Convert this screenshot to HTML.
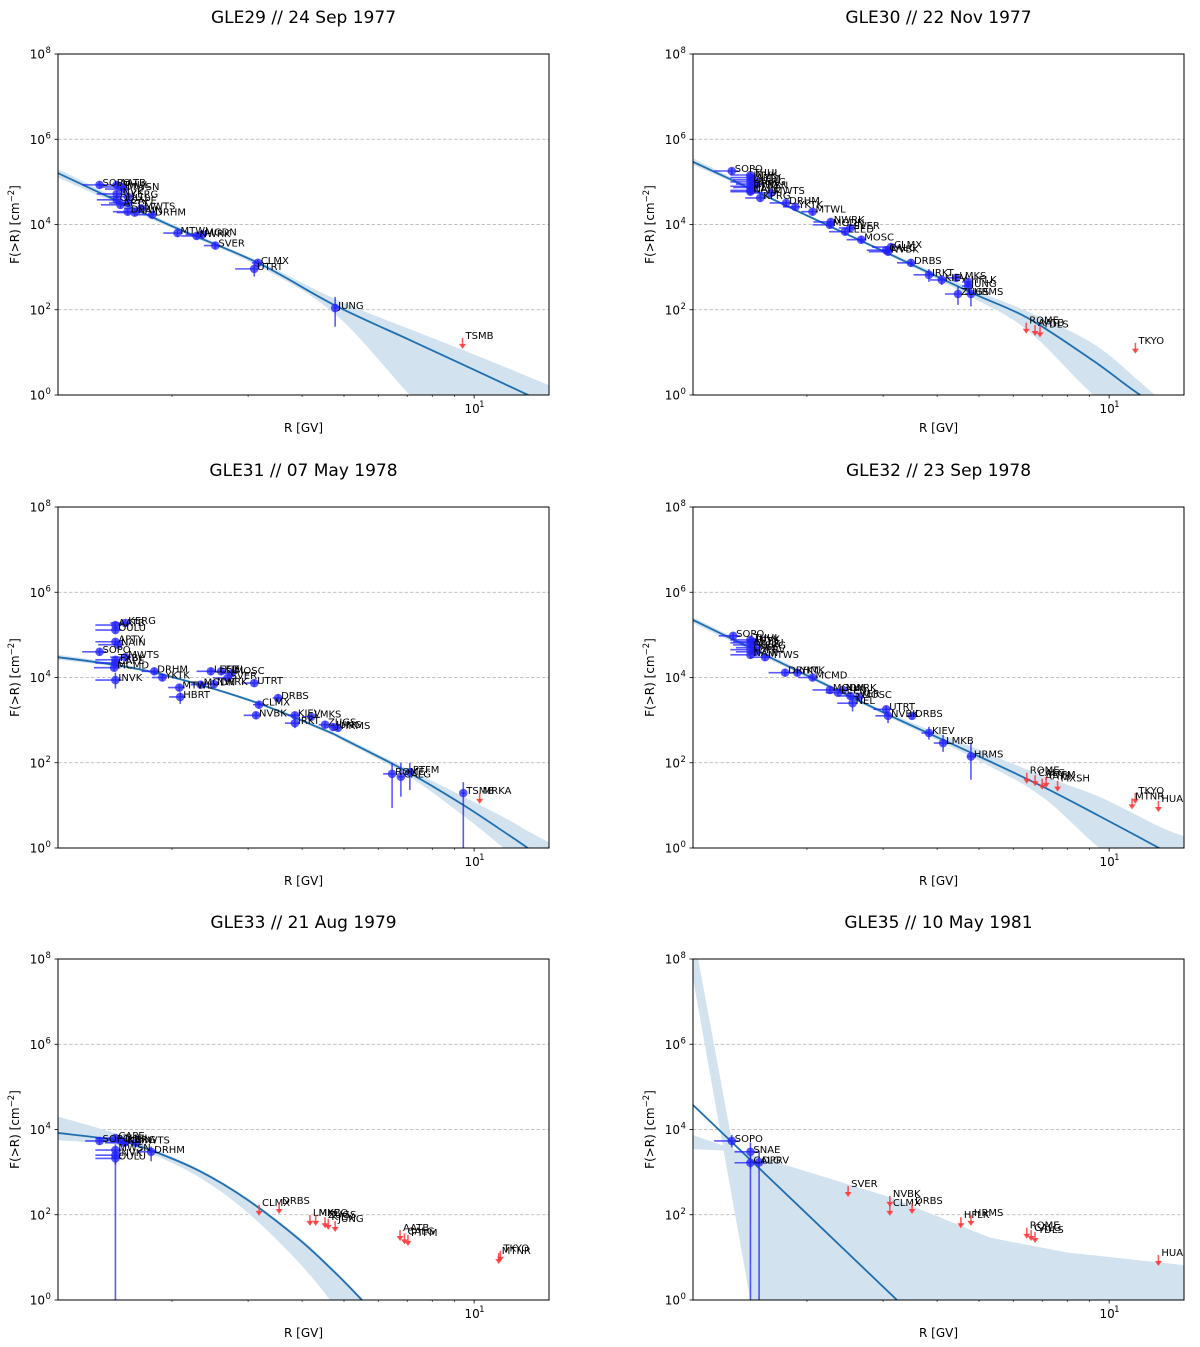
<!DOCTYPE html>
<html><head><meta charset="utf-8"><style>
html,body{margin:0;padding:0;background:#fff;}
svg{display:block;font-family:"DejaVu Sans","Liberation Sans",sans-serif;}
</style></head><body>
<svg id="fig" width="1200" height="1347" viewBox="0 0 1200 1347" xmlns="http://www.w3.org/2000/svg"></svg>
<script>
// ---------- shared axis data ----------
const yTickExps = [0, 2, 4, 6, 8];
const xMajorTicks = [10];
const xMinorTicks = [2, 3, 4, 5, 6, 7, 8, 9];
const xRange = [1.09, 14.9];
const yRange = [1, 1e8];

// ---------- GLE29 ----------
const gle29Names = ["SOPO","AATB","THUL","MWSN","INVK","KERG","OULU","APTY","CAPE","DPRV","MWTS","NAIN","DRHM","MTWL","NWRK","MGDN","SVER","CLMX","UTRT","JUNG"];
const gle29R = [1.36,1.49,1.52,1.55,1.49,1.58,1.49,1.52,1.58,1.58,1.70,1.64,1.80,2.06,2.28,2.35,2.52,3.16,3.10,4.77];
const gle29F = [8.5e4,8.5e4,7.6e4,6.8e4,5.2e4,4.5e4,3.8e4,2.9e4,3.2e4,2.0e4,2.4e4,1.9e4,1.7e4,6.3e3,5.4e3,5.8e3,3.2e3,1.26e3,9.1e2,110];
const gle29dRlo = [0.12,0.15,0.15,0.15,0.15,0.15,0.15,0.15,0.15,0.12,0.15,0.15,0.15,0.15,0.18,0.2,0.15,0.1,0.3,0.05];
const gle29dRhi = [0.04,0.05,0.05,0.05,0.05,0.05,0.05,0.05,0.05,0.05,0.05,0.05,0.05,0.05,0.06,0.06,0.06,0.08,0.08,0.05];
const gle29Flo = [null,null,null,null,null,null,null,null,null,null,null,null,null,null,null,null,null,1.0e3,6e2,40];
const gle29Fhi = [null,null,null,null,null,null,null,null,null,null,null,null,null,null,null,null,null,1.5e3,1.2e3,200];
const gle29ulNames = ["TSMB"];
const gle29ulR = [9.4];
const gle29ulF = [15];
const gle29fitR = [1.09,1.96,3.16,4.77,7.1,10,14.9];
const gle29fitF = [1.6e5,1e4,1.26e3,126,19.5,3.9,0.59];
const gle29bandLo = [1.26e5,8.9e3,1.07e3,79,1,0.03,0.001];
const gle29bandHi = [2e5,1.12e4,1.41e3,178,35,8.9,1.7];

// ---------- GLE30 ----------
const gle30Names = ["SOPO","THUL","INVK","APTY","OULU","KERG","DPRV","MWSN","CAPE","NAIN","KPRG","MWTS","DRHM","YKTK","MTWL","NWRK","MGDN","LEED","SVER","MOSC","CLMX","NVBK","CALG","DRBS","IRKT","KIEV","LMKS","HFLK","JUNG","ZUGS","HRMS"];
const gle30R = [1.34,1.48,1.48,1.50,1.48,1.52,1.48,1.50,1.48,1.48,1.56,1.65,1.79,1.88,2.06,2.27,2.26,2.45,2.52,2.67,3.13,3.08,3.05,3.48,3.83,4.10,4.43,4.72,4.72,4.47,4.79];
const gle30F = [1.8e5,1.45e5,1.26e5,1.12e5,1e5,8.9e4,7.9e4,7.4e4,6.3e4,5.9e4,4.2e4,5.5e4,3.2e4,2.6e4,2e4,1.15e4,9.8e3,6.8e3,8.3e3,4.4e3,2.95e3,2.3e3,2.5e3,1.26e3,660,500,560,450,360,234,234];
const gle30dRlo = [0.12,0.15,0.15,0.15,0.15,0.15,0.15,0.15,0.15,0.15,0.12,0.15,0.15,0.12,0.12,0.2,0.2,0.2,0.15,0.2,0.3,0.3,0.3,0.25,0.3,0.25,0.2,0.15,0.15,0.3,0.15];
const gle30dRhi = [0.05,0.05,0.05,0.05,0.05,0.05,0.05,0.05,0.05,0.05,0.05,0.05,0.05,0.05,0.06,0.06,0.06,0.06,0.06,0.06,0.08,0.08,0.08,0.08,0.08,0.08,0.08,0.08,0.08,0.08,0.08];
const gle30Flo = [null,null,null,null,null,null,null,null,null,null,null,null,null,null,null,null,null,null,null,null,null,null,null,null,450,380,null,null,280,130,120];
const gle30Fhi = [null,null,null,null,null,null,null,null,null,null,null,null,null,null,null,null,null,null,null,null,null,null,null,null,900,650,null,null,460,350,400];
const gle30ulNames = ["ROME","AATB","YDLS","TKYO"];
const gle30ulR = [6.43,6.74,6.92,11.5];
const gle30ulF = [34,30,28,11.5];
const gle30fitR = [1.09,1.5,2.0,3.1,4.8,6.5,9.2,11.8,14.9];
const gle30fitF = [2.95e5,6.5e4,1.62e4,2.04e3,251,63,6.3,1,0.25];
const gle30bandLo = [2.5e5,6e4,1.51e4,1.86e3,200,32,1,0.16,0.01];
const gle30bandHi = [3.55e5,7.1e4,1.74e4,2.24e3,316,89,15.8,2,0.25];

// ---------- GLE31 ----------
const gle31Names = ["AATB","KERG","OULU","APTY","NAIN","SOPO","TXBY","MWTS","CAPE","MCMD","INVK","DRHM","YKTK","MTWL","HBRT","MGDN","LEED","KIEL","SVER","NWRK","MOSC","UTRT","CLMX","DRBS","NVBK","KIEV","IRKT","LMKS","ZUGS","JUNG","HRMS","ROME","CALG","PTFM","TSMB"];
const gle31R = [1.48,1.56,1.48,1.48,1.50,1.36,1.48,1.56,1.48,1.47,1.48,1.82,1.90,2.08,2.09,2.33,2.46,2.60,2.69,2.50,2.75,3.10,3.18,3.52,3.13,3.85,3.85,4.20,4.52,4.72,4.84,6.46,6.77,7.10,9.44];
const gle31F = [1.7e5,1.9e5,1.3e5,6.9e4,5.9e4,4e4,2.6e4,3e4,2.2e4,1.7e4,8.7e3,1.4e4,1e4,5.8e3,3.5e3,6.8e3,1.4e4,1.4e4,9.8e3,7e3,1.26e4,7.4e3,2.3e3,3.3e3,1.3e3,1.3e3,850,1.2e3,780,690,660,55,47,60,19.5];
const gle31dRlo = [0.15,0.12,0.15,0.15,0.15,0.12,0.15,0.12,0.15,0.15,0.15,0.12,0.1,0.12,0.12,0.12,0.18,0.15,0.2,0.15,0.15,0.2,0.1,0.1,0.2,0.15,0.2,0.2,0.15,0.15,0.1,0.3,0.1,0.1,0.1];
const gle31dRhi = [0.05,0.05,0.05,0.05,0.05,0.05,0.05,0.05,0.05,0.05,0.05,0.05,0.05,0.06,0.06,0.06,0.06,0.06,0.06,0.06,0.06,0.08,0.08,0.08,0.08,0.08,0.08,0.08,0.08,0.08,0.08,0.1,0.1,0.1,0.1];
const gle31Flo = [null,null,null,null,null,null,null,null,null,null,5.5e3,null,null,null,2.4e3,null,null,null,null,null,null,null,null,null,null,null,650,null,null,null,null,8.7,16,23,0.5];
const gle31Fhi = [null,null,null,null,null,null,null,null,null,null,1.3e4,null,null,null,4.5e3,null,null,null,null,null,null,null,null,null,null,null,1.1e3,null,null,null,null,100,100,100,35];
const gle31ulNames = ["MRKA"];
const gle31ulR = [10.3];
const gle31ulF = [13.5];
const gle31fitR = [1.09,1.5,2.0,3.1,4.5,5.0,7.0,9.44,12.0,13.3,14.9];
const gle31fitF = [3e4,1.92e4,1.03e4,2.69e3,589,355,61.7,10.2,2.04,1,0.43];
const gle31bandLo = [2.6e4,1.75e4,9.6e3,2.5e3,537,316,51,5.75,0.81,0.32,0.095];
const gle31bandHi = [3.45e4,2.1e4,1.1e4,2.88e3,646,398,72.4,16.2,4.6,2.5,1.35];

// ---------- GLE32 ----------
const gle32Names = ["SOPO","THUL","INVK","APTY","OULU","KERG","CAPE","DPRV","NAIN","MTWS","DRHM","YKTK","MCMD","MGDN","LEED","NWRK","SVER","MOSC","NEL","UTRT","NVBK","DRBS","KIEV","LMKB","HRMS"];
const gle32R = [1.35,1.48,1.50,1.48,1.50,1.52,1.48,1.52,1.48,1.60,1.78,1.90,2.06,2.26,2.36,2.42,2.52,2.64,2.55,3.05,3.08,3.50,3.83,4.13,4.79];
const gle32F = [9.5e4,7.6e4,6.9e4,6.5e4,5.8e4,5e4,4.5e4,4e4,3.4e4,3e4,1.3e4,1.3e4,1e4,5.1e3,4.4e3,5.1e3,3.7e3,3.5e3,2.5e3,1.8e3,1.26e3,1.26e3,500,290,140];
const gle32dRlo = [0.1,0.15,0.15,0.15,0.15,0.15,0.15,0.15,0.15,0.12,0.15,0.12,0.15,0.2,0.15,0.15,0.15,0.15,0.2,0.2,0.2,0.1,0.15,0.2,0.1];
const gle32dRhi = [0.05,0.05,0.05,0.05,0.05,0.05,0.05,0.05,0.05,0.05,0.05,0.05,0.06,0.06,0.06,0.06,0.06,0.06,0.06,0.08,0.08,0.08,0.08,0.1,0.1];
const gle32Flo = [null,null,null,null,null,null,null,null,null,null,null,null,null,null,null,null,null,null,1.6e3,null,850,null,350,180,40];
const gle32Fhi = [null,null,null,null,null,null,null,null,null,null,null,null,null,null,null,null,null,null,3.2e3,null,1.6e3,null,700,450,300];
const gle32ulNames = ["ROME","CALG","AATB","PTFM","MXSH","TKYO","MTNR","HUAN"];
const gle32ulR = [6.45,6.74,7.0,7.15,7.6,11.5,11.3,13.0];
const gle32ulF = [40,35,29,32,26,13.5,10,8.7];
const gle32fitR = [1.09,2.0,3.05,5.0,7.0,9.5,13.05,14.9];
const gle32fitF = [2.24e5,1.12e4,1.41e3,141,28,5.6,1,0.5];
const gle32bandLo = [1.9e5,1e4,1.26e3,112,15.8,1,0.1,0.025];
const gle32bandHi = [2.6e5,1.26e4,1.58e3,200,50,15.8,3.2,1.9];

// ---------- GLE33 ----------
const gle33Names = ["SOPO","CAPE","MWSN","THUL","NAIN","INVK","OULU","MWTS","KERG","DRHM"];
const gle33R = [1.36,1.48,1.48,1.52,1.55,1.48,1.48,1.65,1.56,1.79];
const gle33F = [5.4e3,6.3e3,3.3e3,5.5e3,4.9e3,2.5e3,2.1e3,4.9e3,5.1e3,3e3];
const gle33dRlo = [0.1,0.15,0.15,0.15,0.15,0.15,0.15,0.12,0.12,0.12];
const gle33dRhi = [0.05,0.05,0.05,0.05,0.05,0.05,0.05,0.05,0.05,0.05];
const gle33Flo = [null,null,2.2e3,null,null,1.5e3,0.5,null,null,1.8e3];
const gle33Fhi = [null,null,4.5e3,null,null,3.5e3,3.2e3,null,null,4e3];
const gle33ulNames = ["CLMX","DRBS","LMKB","MXCO","ZUGS","KIEV","JUNG","AATB","CALG","PTFM","TKYO","MTNR"];
const gle33ulR = [3.18,3.54,4.17,4.30,4.52,4.60,4.77,6.74,6.9,7.03,11.5,11.4];
const gle33ulF = [117,129,68,68,60,55,49,30,25,23,9.8,8.7];
const gle33fitR = [1.09,1.5,1.78,2.32,3.0,3.95,4.8,5.5];
const gle33fitF = [8.3e3,5.5e3,3.3e3,1.05e3,219,25.7,4.1,1];
const gle33bandLo = [5.6e3,4.4e3,2.75e3,741,110,7.2,0.65,0.1];
const gle33bandHi = [2e4,7.8e3,3.8e3,1.15e3,240,28.8,4.6,1.12];

// ---------- GLE35 ----------
const gle35Names = ["SOPO","SNAE","DPRV","CALG"];
const gle35R = [1.34,1.48,1.55,1.48];
const gle35F = [5.4e3,3e3,1.7e3,1.66e3];
const gle35dRlo = [0.12,0.12,0.1,0.12];
const gle35dRhi = [0.05,0.06,0.04,0.06];
const gle35Flo = [3.8e3,1.2e3,0.5,0.5];
const gle35Fhi = [7.5e3,5e3,3.2e3,2.4e3];
const gle35ulNames = ["SVER","NVBK","CLMX","DRBS","HFLK","HRMS","ROME","CALG","YDLS","HUAN"];
const gle35ulR = [2.49,3.11,3.11,3.5,4.54,4.79,6.45,6.6,6.74,13.0];
const gle35ulF = [324,190,117,129,60,68,34,30,27,7.8];
const gle35fitR = [1.07,3.23];
const gle35fitF = [4.5e4,1];
// band drawn as two overlapping wedges (R, F)
const gle35steepR = [1.07,1.12,1.57,1.48];
const gle35steepF = [1e8,1e8,0.97,0.97];
const gle35shallowR = [1.09,1.34,1.57,14.9,14.9,8.0,5.3,3.1,1.34,1.09];
const gle35shallowF = [3470,3160,0.97,0.97,6.6,13,29,263,3550,7400];

// ---------- drawing ----------
const NS = "http://www.w3.org/2000/svg";
const svg = document.getElementById("fig");
function mk(tag, attrs, parent) {
  const e = document.createElementNS(NS, tag);
  for (const k in attrs) e.setAttribute(k, attrs[k]);
  (parent || svg).appendChild(e);
  return e;
}
function smooth(pts, start) {
  let s = (start ? "M" : "L") + pts[0][0].toFixed(2) + "," + pts[0][1].toFixed(2);
  for (let i = 0; i < pts.length - 1; i++) {
    const p0 = pts[i - 1] || pts[i], p1 = pts[i], p2 = pts[i + 1], p3 = pts[i + 2] || p2;
    const c1x = p1[0] + (p2[0] - p0[0]) / 6, c1y = p1[1] + (p2[1] - p0[1]) / 6;
    const c2x = p2[0] - (p3[0] - p1[0]) / 6, c2y = p2[1] - (p3[1] - p1[1]) / 6;
    s += " C" + c1x.toFixed(2) + "," + c1y.toFixed(2) + " " + c2x.toFixed(2) + "," + c2y.toFixed(2) + " " + p2[0].toFixed(2) + "," + p2[1].toFixed(2);
  }
  return s;
}
const W = 491, H = 341;
const lx0 = Math.log10(xRange[0]), lx1 = Math.log10(xRange[1]);
const ly0 = Math.log10(yRange[0]), ly1 = Math.log10(yRange[1]);

function panel(id, title, x0, y0, d) {
  const X = r => x0 + (Math.log10(r) - lx0) / (lx1 - lx0) * W;
  const Y = f => y0 + H - (Math.log10(f) - ly0) / (ly1 - ly0) * H;
  const g = mk("g", {});
  
  
  const cp = mk("clipPath", {id: "clip-" + id}, g);
  mk("rect", {x: x0, y: y0, width: W, height: H}, cp);

  const t = mk("text", {x: x0 + W / 2, y: y0 - 31, "text-anchor": "middle", "font-size": "17", fill: "#000"}, g);
  t.textContent = title;
  
  

  yTickExps.forEach(e => {
    if (e > 0 && e < 8) {
      const gl = mk("line", {x1: x0, x2: x0 + W, y1: Y(Math.pow(10, e)), y2: Y(Math.pow(10, e)), stroke: "#b0b0b0", "stroke-width": 0.8, "stroke-dasharray": "3.5,2"}, g);
      
      
    }
  });

  const plot = mk("g", {"clip-path": "url(#clip-" + id + ")"}, g);
  
  

  if (d.bandLo) {
    const hi = d.fitR.map((r, i) => [X(r), Y(d.bandHi[i])]);
    const lo = d.fitR.map((r, i) => [X(r), Y(Math.max(d.bandLo[i], 1e-6))]).reverse();
    const b = mk("path", {d: smooth(hi, true) + " " + smooth(lo, false) + " Z", fill: "#d2e2ef"}, plot);
    
    
  }
  if (d.polys) {
    d.polys.forEach(pg => {
      const b = mk("polygon", {points: pg[0].map((r, i) => X(r) + "," + Y(pg[1][i])).join(" "), fill: "#d2e2ef"}, plot);
      
      
    });
  }
  const fl = mk("path", {d: smooth(d.fitR.map((r, i) => [X(r), Y(d.fitF[i])]), true), fill: "none", stroke: "#1f6fb0", "stroke-width": 1.8}, plot);
  
  

  d.names.forEach((n, i) => {
    const px = X(d.R[i]), py = Y(d.F[i]);
    const pg = mk("g", {}, plot);
    
    
    mk("line", {x1: X(d.R[i] - d.dRlo[i]), x2: X(d.R[i] + d.dRhi[i]), y1: py, y2: py, stroke: "#2222ff", "stroke-opacity": 0.75, "stroke-width": 1.6}, pg);
    const flo = d.Flo[i] !== null ? d.Flo[i] : d.F[i] * 0.82;
    const fhi = d.Fhi[i] !== null ? d.Fhi[i] : d.F[i] * 1.2;
    mk("line", {x1: px, x2: px, y1: Y(flo), y2: Y(fhi), stroke: "#2222ff", "stroke-opacity": 0.75, "stroke-width": 1.6}, pg);
    mk("circle", {cx: px, cy: py, r: 4.3, fill: "#2222ff", "fill-opacity": 0.75}, pg);
  });
  d.names.forEach((n, i) => {
    const lb = mk("text", {x: X(d.R[i]) + 3, y: Y(d.F[i]) + 1, "font-size": "10", fill: "#000"}, plot);
    lb.textContent = n;
    
    
  });
  d.ulNames.forEach((n, i) => {
    const px = X(d.ulR[i]), py = Y(d.ulF[i]);
    const ug = mk("g", {}, plot);
    
    
    mk("line", {x1: px, x2: px, y1: py - 7, y2: py + 1, stroke: "#ff3333", "stroke-opacity": 0.8, "stroke-width": 1.6}, ug);
    mk("polygon", {points: (px - 3.5) + "," + (py - 1) + " " + (px + 3.5) + "," + (py - 1) + " " + px + "," + (py + 4), fill: "#ff3333", "fill-opacity": 0.85}, ug);
    const lb = mk("text", {x: px + 3, y: py - 6, "font-size": "10", fill: "#000"}, ug);
    lb.textContent = n;
  });

  const fr = mk("rect", {x: x0, y: y0, width: W, height: H, fill: "none", stroke: "#000", "stroke-width": 1}, g);
  
  

  yTickExps.forEach(e => {
    const yy = Y(Math.pow(10, e));
    mk("line", {x1: x0 - 3.5, x2: x0, y1: yy, y2: yy, stroke: "#000", "stroke-width": 0.8}, g);
    const tl = mk("text", {x: x0 - 13, y: yy + 4.5, "text-anchor": "end", "font-size": "12", fill: "#000"}, g);
    tl.textContent = "10";
    
    
    const sup = mk("text", {x: x0 - 12.5, y: yy - 1, "font-size": "8.5", fill: "#000"}, g);
    sup.textContent = String(e);
  });
  xMinorTicks.forEach(v => {
    mk("line", {x1: X(v), x2: X(v), y1: y0 + H, y2: y0 + H + 2, stroke: "#000", "stroke-width": 0.6}, g);
  });
  xMajorTicks.forEach(v => {
    mk("line", {x1: X(v), x2: X(v), y1: y0 + H, y2: y0 + H + 3.5, stroke: "#000", "stroke-width": 0.8}, g);
    const tl = mk("text", {x: X(v) - 2, y: y0 + H + 18, "text-anchor": "middle", "font-size": "12", fill: "#000"}, g);
    tl.textContent = "10";
    
    
    const sup = mk("text", {x: X(v) + 5, y: y0 + H + 12, "font-size": "8.5", fill: "#000"}, g);
    sup.textContent = "1";
  });
  const xl = mk("text", {x: x0 + W / 2, y: y0 + H + 37, "text-anchor": "middle", "font-size": "12", fill: "#000"}, g);
  xl.textContent = "R [GV]";
  
  
  const yl = mk("text", {x: 0, y: 0, "text-anchor": "middle", "font-size": "12", fill: "#000", transform: "translate(" + (x0 - 39) + "," + (y0 + H / 2) + ") rotate(-90)"}, g);
  yl.textContent = "F(>R) [cm";
  const ys = mk("tspan", {"font-size": "8.5", dy: "-5"}, yl);
  ys.textContent = "\u22122";
  const ye = mk("tspan", {"font-size": "12", dy: "5"}, yl);
  ye.textContent = "]";
  
  
}

panel("gle29", "GLE29 // 24 Sep 1977", 58, 54, {names: gle29Names, R: gle29R, F: gle29F, dRlo: gle29dRlo, dRhi: gle29dRhi, Flo: gle29Flo, Fhi: gle29Fhi, ulNames: gle29ulNames, ulR: gle29ulR, ulF: gle29ulF, fitR: gle29fitR, fitF: gle29fitF, bandLo: gle29bandLo, bandHi: gle29bandHi});
panel("gle30", "GLE30 // 22 Nov 1977", 693, 54, {names: gle30Names, R: gle30R, F: gle30F, dRlo: gle30dRlo, dRhi: gle30dRhi, Flo: gle30Flo, Fhi: gle30Fhi, ulNames: gle30ulNames, ulR: gle30ulR, ulF: gle30ulF, fitR: gle30fitR, fitF: gle30fitF, bandLo: gle30bandLo, bandHi: gle30bandHi});
panel("gle31", "GLE31 // 07 May 1978", 58, 507, {names: gle31Names, R: gle31R, F: gle31F, dRlo: gle31dRlo, dRhi: gle31dRhi, Flo: gle31Flo, Fhi: gle31Fhi, ulNames: gle31ulNames, ulR: gle31ulR, ulF: gle31ulF, fitR: gle31fitR, fitF: gle31fitF, bandLo: gle31bandLo, bandHi: gle31bandHi});
panel("gle32", "GLE32 // 23 Sep 1978", 693, 507, {names: gle32Names, R: gle32R, F: gle32F, dRlo: gle32dRlo, dRhi: gle32dRhi, Flo: gle32Flo, Fhi: gle32Fhi, ulNames: gle32ulNames, ulR: gle32ulR, ulF: gle32ulF, fitR: gle32fitR, fitF: gle32fitF, bandLo: gle32bandLo, bandHi: gle32bandHi});
panel("gle33", "GLE33 // 21 Aug 1979", 58, 959, {names: gle33Names, R: gle33R, F: gle33F, dRlo: gle33dRlo, dRhi: gle33dRhi, Flo: gle33Flo, Fhi: gle33Fhi, ulNames: gle33ulNames, ulR: gle33ulR, ulF: gle33ulF, fitR: gle33fitR, fitF: gle33fitF, bandLo: gle33bandLo, bandHi: gle33bandHi});
panel("gle35", "GLE35 // 10 May 1981", 693, 959, {names: gle35Names, R: gle35R, F: gle35F, dRlo: gle35dRlo, dRhi: gle35dRhi, Flo: gle35Flo, Fhi: gle35Fhi, ulNames: gle35ulNames, ulR: gle35ulR, ulF: gle35ulF, fitR: gle35fitR, fitF: gle35fitF, polys: [[gle35steepR, gle35steepF], [gle35shallowR, gle35shallowF]]});
</script>
</body></html>
